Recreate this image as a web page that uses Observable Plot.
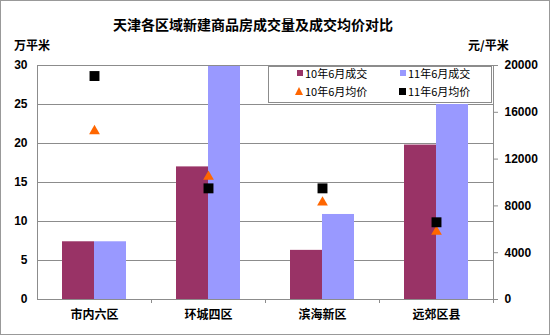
<!DOCTYPE html>
<html>
<head>
<meta charset="utf-8">
<script src="https://cdn.jsdelivr.net/npm/d3@7"></script>
<script src="https://cdn.jsdelivr.net/npm/@observablehq/plot@0.6"></script>
<style>
  html, body { margin: 0; padding: 0; background: white; }
  #wrap { position: relative; width: 550px; height: 335px; overflow: hidden; font-family: "Liberation Sans", "Noto Sans CJK SC", sans-serif; }
  #wrap svg { display: block; }
  .abs { position: absolute; white-space: nowrap; line-height: 1; }
  #title { top: 17px; left: 0; width: 506px; text-align: center; font-size: 14px; font-weight: bold; font-family: "Noto Sans CJK SC", sans-serif; }
  .unit { top: 39px; font-size: 12px; font-weight: bold; font-family: "Noto Sans CJK SC", sans-serif; }
  #legend { position: absolute; left: 268px; top: 66px; width: 224px; height: 37px; background: white; border: 1px solid #8c8c8c; box-sizing: border-box; font-family: "Noto Sans CJK SC", sans-serif; font-size: 11px; }
  .item { position: absolute; display: flex; align-items: center; height: 14px; }
  .sw { display: inline-block; margin-right: 2px; }
  #border { position: absolute; left: 0; top: 0; width: 550px; height: 335px; border: 1px solid #999; box-sizing: border-box; pointer-events: none; }
</style>
</head>
<body>
<div id="wrap"></div>
<script>
const categories = ["市内六区", "环城四区", "滨海新区", "远郊区县"];
const volume2010 = [7.4, 17.0, 6.3, 19.8];     // 万平米
const volume2011 = [7.4, 31.0, 10.9, 25.0];    // 万平米 (环城四区 exceeds axis, clipped)
const price2010 = [14400, 10500, 8300, 5800];  // 元/平米
const price2011 = [19100, 9500, 9500, 6600];   // 元/平米
const leftTicks = [0, 5, 10, 15, 20, 25, 30];
const rightTicks = [0, 4000, 8000, 12000, 16000, 20000];
const seriesNames = ["10年6月成交", "11年6月成交", "10年6月均价", "11年6月均价"];
const title = "天津各区域新建商品房成交量及成交均价对比";
const leftUnit = "万平米";
const rightUnit = "元/平米";

const leftMax = 30, rightMax = 20000;
const k = leftMax / rightMax;

const rows = categories.map((c, i) => ({
  category: c, v10: volume2010[i], v11: volume2011[i], p10: price2010[i], p11: price2011[i]
}));

const gray = "#8c8c8c";

const chart = Plot.plot({
  width: 550,
  height: 335,
  marginTop: 65,
  marginBottom: 36,
  marginLeft: 37,
  marginRight: 57,
  style: { background: "white", fontFamily: "'Liberation Sans', 'Noto Sans CJK SC', sans-serif", fontSize: "12px", color: "black" },
  x: { domain: categories, padding: 0, axis: null },
  y: { domain: [0, leftMax], axis: null },
  marks: [
    Plot.gridY({ ticks: leftTicks, stroke: gray, strokeOpacity: 1 }),
    Plot.barY(rows, { x: "category", y: "v10", fill: "#993366", insetLeft: 25, insetRight: 57 }),
    Plot.barY(rows, { x: "category", y: "v11", fill: "#9999ff", insetLeft: 57, insetRight: 25, clip: true }),
    Plot.frame({ stroke: gray }),
    Plot.axisY({ ticks: leftTicks, anchor: "left", tickSize: 0, tickPadding: 10, label: null, fontWeight: "bold", fontSize: 12 }),
    Plot.axisY({ ticks: rightTicks.map(v => v * k), anchor: "right", tickSize: 4, tickPadding: 7, stroke: gray, label: null,
      tickFormat: d => String(Math.round(d / k)), fontWeight: "bold", fontSize: 12 }),
    Plot.axisX({ anchor: "bottom", tickSize: 0, tickPadding: 11, label: null, fontWeight: "bold", fontSize: 12, fontFamily: "'Noto Sans CJK SC', sans-serif" }),
    Plot.ruleX(categories, { x: d => d, dx: 57, y1: () => 0, y2: () => 0, insetBottom: -4, stroke: gray }),
    Plot.dot(rows, { x: "category", y: d => d.p10 * k, symbol: "triangle", fill: "#ff6600", r: 4 }),
    Plot.dot(rows, { x: "category", y: d => d.p11 * k, symbol: "square", fill: "black", r: 5.6 })
  ]
});

const wrap = document.getElementById("wrap");
wrap.appendChild(chart);

function addText(cls, id, text, left) {
  const d = document.createElement("div");
  d.className = "abs " + cls;
  if (id) d.id = id;
  d.textContent = text;
  if (left != null) d.style.left = left + "px";
  wrap.appendChild(d);
}
addText("", "title", title);
addText("unit", null, leftUnit, 14);
addText("unit", null, rightUnit, 468);

const legend = document.createElement("div");
legend.id = "legend";
const items = [
  { name: seriesNames[0], x: 28, y: 6, sw: '<span class="sw" style="width:6px;height:6px;background:#993366"></span>' },
  { name: seriesNames[1], x: 131, y: 6, sw: '<span class="sw" style="width:6px;height:6px;background:#9999ff"></span>' },
  { name: seriesNames[2], x: 26, y: 24, sw: '<span class="sw" style="width:0;height:0;border-left:4px solid transparent;border-right:4px solid transparent;border-bottom:8px solid #ff6600"></span>' },
  { name: seriesNames[3], x: 130, y: 24, sw: '<span class="sw" style="width:7px;height:7px;background:black"></span>' }
];
for (const it of items) {
  const d = document.createElement("div");
  d.className = "item";
  d.style.left = it.x + "px";
  d.style.top = (it.y - 7) + "px";
  d.innerHTML = it.sw + "<span>" + it.name + "</span>";
  legend.appendChild(d);
}
wrap.appendChild(legend);

const border = document.createElement("div");
border.id = "border";
wrap.appendChild(border);
</script>
</body>
</html>
